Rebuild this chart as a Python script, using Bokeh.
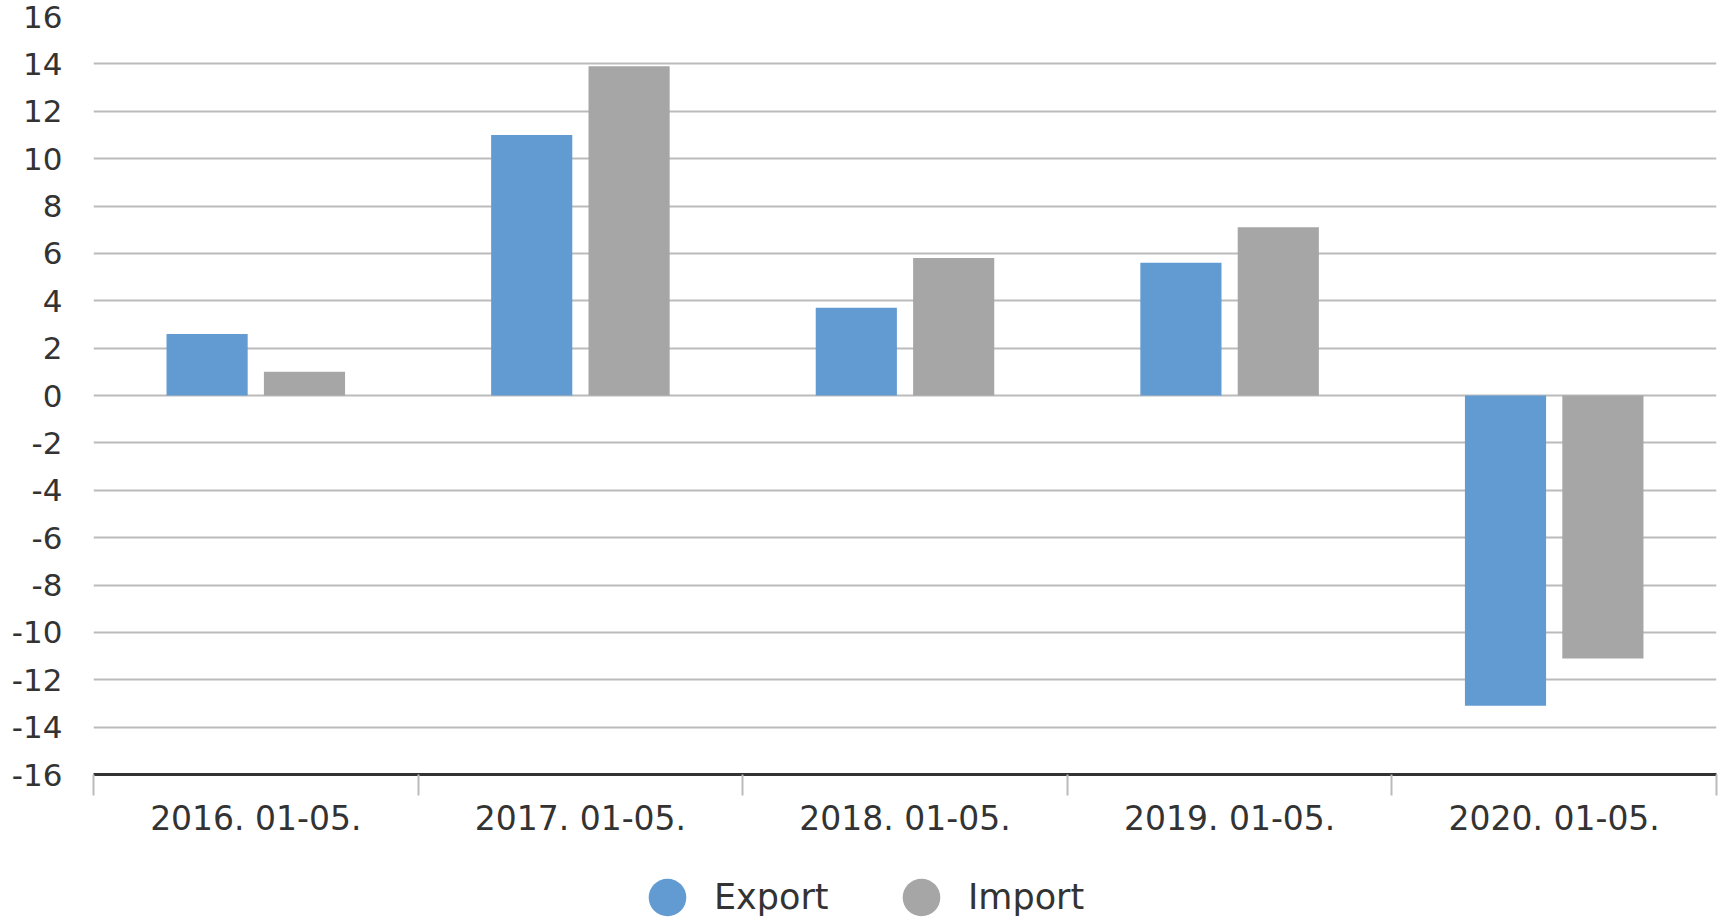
from bokeh.plotting import figure
from bokeh.models import Range1d, FixedTicker, Legend, LegendItem, ColumnDataSource
from bokeh.layouts import column
from bokeh.embed import file_html
from bokeh.resources import INLINE
import numpy as np

categories = ["2016. 01-05.", "2017. 01-05.", "2018. 01-05.", "2019. 01-05.", "2020. 01-05."]
export_vals = [2.6, 11.0, 3.7, 5.6, -13.1]
import_vals = [1.0, 13.9, 5.8, 7.1, -11.1]
y_ticks = list(range(-16, 17, 2))
y_tick_labels = [str(t) for t in y_ticks]
series_names = ["Export", "Import"]

EXPORT_COLOR = "#619bd2"
IMPORT_COLOR = "#a6a6a6"
TEXT_COLOR = "#333333"
GRID_COLOR = "#bbbbbb"
FONT = "DejaVu Sans"

idx = np.arange(len(categories)) + 0.5
src = ColumnDataSource(dict(
    xe=idx - 0.15, xi=idx + 0.15, ex=export_vals, im=import_vals,
))

p = figure(width=1725, height=843, output_backend="svg", toolbar_location=None,
           x_range=Range1d(0, len(categories)), y_range=Range1d(-16, 16),
           min_border_left=93, min_border_right=9, min_border_top=16, min_border_bottom=69)
p.outline_line_color = None
p.background_fill_color = "white"
p.border_fill_color = "white"

p.vbar(x="xe", top="ex", bottom=0, width=0.25, source=src,
       fill_color=EXPORT_COLOR, line_color=None)
p.vbar(x="xi", top="im", bottom=0, width=0.25, source=src,
       fill_color=IMPORT_COLOR, line_color=None)

# x axis: labels at category centres, ticks at category boundaries
xa = p.xaxis[0]
xa.ticker = FixedTicker(ticks=list(idx), minor_ticks=list(range(len(categories) + 1)))
xa.major_label_overrides = {float(t): c for t, c in zip(idx, categories)}
xa.major_tick_out = 0
xa.major_tick_in = 0
xa.major_tick_line_color = None
xa.minor_tick_out = 21
xa.minor_tick_in = 0
xa.minor_tick_line_color = GRID_COLOR
xa.minor_tick_line_width = 2
xa.axis_line_color = TEXT_COLOR
xa.axis_line_width = 3
xa.major_label_text_font = FONT
xa.major_label_text_font_size = "33px"
xa.major_label_text_color = TEXT_COLOR
xa.major_label_standoff = 3

ya = p.yaxis[0]
ya.ticker = FixedTicker(ticks=y_ticks, minor_ticks=[])
ya.major_label_overrides = {t: s for t, s in zip(y_ticks, y_tick_labels)}
ya.axis_line_color = None
ya.major_tick_line_color = None
ya.minor_tick_line_color = None
ya.major_label_text_font = FONT
ya.major_label_text_font_size = "31px"
ya.major_label_text_color = TEXT_COLOR
ya.major_label_standoff = 25

p.xgrid.visible = False
p.ygrid.ticker = FixedTicker(ticks=y_ticks)
p.ygrid.grid_line_color = GRID_COLOR
p.ygrid.grid_line_width = 2

# legend strip below the chart
lf = figure(width=1725, height=75, output_backend="svg", toolbar_location=None,
            x_range=Range1d(0, 1), y_range=Range1d(0, 1),
            x_axis_type=None, y_axis_type=None,
            min_border_left=0, min_border_right=0, min_border_top=0, min_border_bottom=0)
lf.outline_line_color = None
lf.xgrid.visible = False
lf.ygrid.visible = False
lf.background_fill_color = "white"
lf.border_fill_color = "white"

lsrc = ColumnDataSource(dict(x=list(idx), ex=export_vals, im=import_vals))
lg_exp = lf.scatter(x="x", y="ex", source=lsrc, marker="circle", size=0,
                    fill_color=EXPORT_COLOR, line_color=None)
lg_imp = lf.scatter(x="x", y="im", source=lsrc, marker="circle", size=0,
                    fill_color=IMPORT_COLOR, line_color=None)

for name, rend, vx, standoff in [(series_names[0], lg_exp, 527, -18),
                                  (series_names[1], lg_imp, 781, -14)]:
    leg = Legend(items=[LegendItem(label=name, renderers=[rend])],
                 location=(vx, -26), orientation="horizontal",
                 glyph_width=94, glyph_height=94, padding=0, margin=0, spacing=0,
                 label_standoff=standoff, border_line_color=None,
                 background_fill_alpha=0,
                 label_text_font=FONT, label_text_font_size="35px",
                 label_text_color=TEXT_COLOR)
    lf.add_layout(leg, "center")

layout = column(p, lf, spacing=0)
open("out.html", "w").write(file_html(layout, INLINE))
